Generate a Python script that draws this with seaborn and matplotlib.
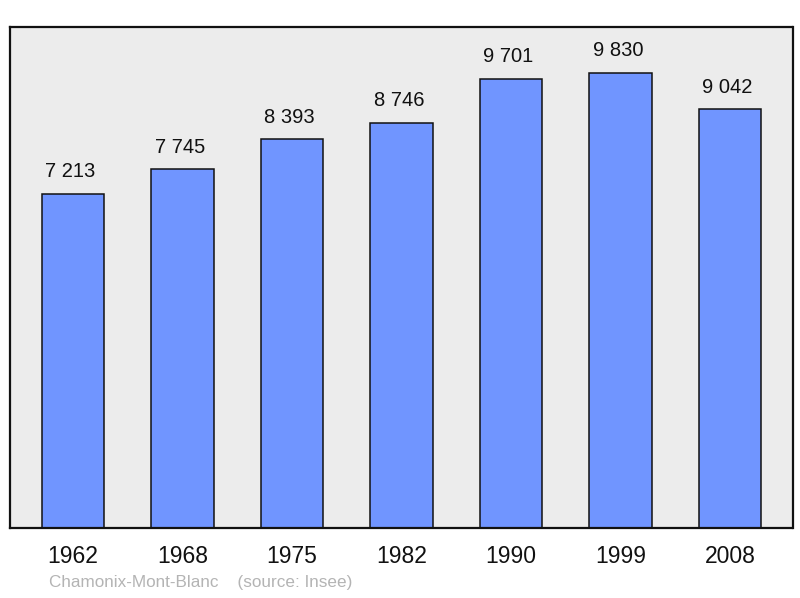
import matplotlib
matplotlib.use("Agg")
import matplotlib.pyplot as plt
import seaborn as sns
import pandas as pd

years = ["1962", "1968", "1975", "1982", "1990", "1999", "2008"]
population = [7213, 7745, 8393, 8746, 9701, 9830, 9042]
value_labels = ["7 213", "7 745", "8 393", "8 746", "9 701", "9 830", "9 042"]
source_text = "Chamonix-Mont-Blanc    (source: Insee)"

sns.set_style("white")
plt.rcParams['font.family'] = ['Liberation Sans', 'DejaVu Sans']

df = pd.DataFrame({"year": years, "pop": population})

fig = plt.figure(figsize=(8, 5.98), dpi=100)
ax = fig.add_axes([9.5/800, (598-528)/598, 783/800, 501/598])
ax.set_facecolor("#ececec")

sns.barplot(data=df, x="year", y="pop", color="#7095ff", saturation=1,
            width=0.57, edgecolor="#111111", linewidth=1.1, ax=ax)

ax.set_xlim(-0.58, 6.57)
ax.set_ylim(0, max(population) * 1.1)
ax.set_yticks([])
ax.set_xlabel("")
ax.set_ylabel("")
ax.tick_params(axis="x", length=0, labelsize=16.5, pad=12, colors="#111111")
for s in ax.spines.values():
    s.set_visible(True)
    s.set_linewidth(1.6)
    s.set_color("#111111")

for i, (v, lab) in enumerate(zip(population, value_labels)):
    ax.annotate(lab, (i, v), xytext=(-2, 9), textcoords="offset points",
                ha="center", va="bottom", fontsize=14.5, color="#111111")

fig.text(49/800, 1 - 583/598, source_text, ha="left", va="center",
         fontsize=12.3, color="#b4b4b4")

fig.savefig("out.png", dpi=100)
